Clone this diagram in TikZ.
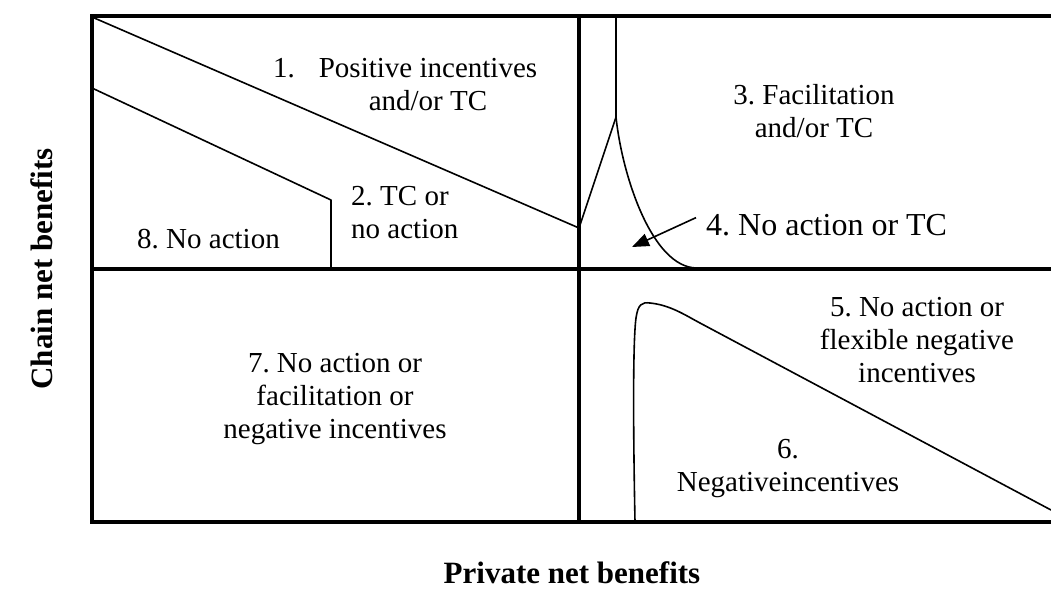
\documentclass[tikz,border=0pt]{standalone}
\usepackage{fontspec}
\setmainfont{Liberation Serif}
\usetikzlibrary{arrows.meta,positioning}
\tikzset{
  frame/.style={line width=3.6pt,line join=miter},
  bound/.style={line width=1.6pt},
  pointer/.style={line width=1.6pt,-{Triangle[length=17pt,width=13pt]}},
  every node/.style={inner sep=0pt,font=\fontsize{29}{33}\selectfont},
  zone/.style={align=center,anchor=base},
  axlabel/.style={font=\fontsize{31}{36}\selectfont\bfseries}
}
\frenchspacing

\begin{document}
\begin{tikzpicture}[x=1pt,y=-1pt,line cap=butt,line join=round]
  \useasboundingbox (0,0) rectangle (1051,590);

  % frame and quadrants
  \draw[frame] (1051,16) -- (92,16) -- (92,522) -- (1051,522);
  \draw[frame] (92,269) -- (1051,269);
  \draw[frame] (579,16) -- (579,522);

  % boundaries between the zones
  \coordinate (spike) at (616,117);
  \coordinate (kink) at (579,228);
  \draw[bound] (92,17) -- (kink) -- (spike) -- (616,16);
  \draw[bound] (92,88) -- (331,200) -- (331,269);
  \draw[bound] (spike) .. controls (622,175) and (652,268) .. (697,268);
  \draw[bound] (635,522) .. controls (633,420) and (633,340) .. (636,318)
     .. controls (638,304) and (642,302) .. (650,303)
     .. controls (670,305) and (685,315) .. (700,323) -- (1051,510);

  % zone labels (base = last line)
  \node[zone] (pos) at (428,110) {\llap{1.\hspace{24pt}}Positive incentives\\and/or TC};
  \node[align=left,anchor=base west] (tcno) at (351,238) {2. TC or\\no action};
  \node[zone] (facil) at (814,137) {3. Facilitation\\and/or TC};
  \node[anchor=base west,font=\fontsize{32}{36}\selectfont] (notc) at (706,235) {4. No action or TC};
  \node[zone] (flexneg) at (917,382) {5. No action or\\flexible negative\\incentives};
  \node[zone] (neginc) at (788,491) {6.\\Negativeincentives};
  \node[zone] (nofacneg) at (335,438) {7. No action or\\facilitation or\\negative incentives};
  \node[anchor=base west] (noact) at (137,248) {8. No action};

  % pointer to zone 4
  \coordinate (tip4) at (632,247);
  \draw[pointer] ([xshift=-10pt,yshift=7pt]notc.west) -- (tip4);

  % axis titles
  \node[axlabel] (xlab) at (572,573) {Private net benefits};
  \node[axlabel,rotate=90] (ylab) at (42,269) {Chain net benefits};
\end{tikzpicture}
\end{document}
